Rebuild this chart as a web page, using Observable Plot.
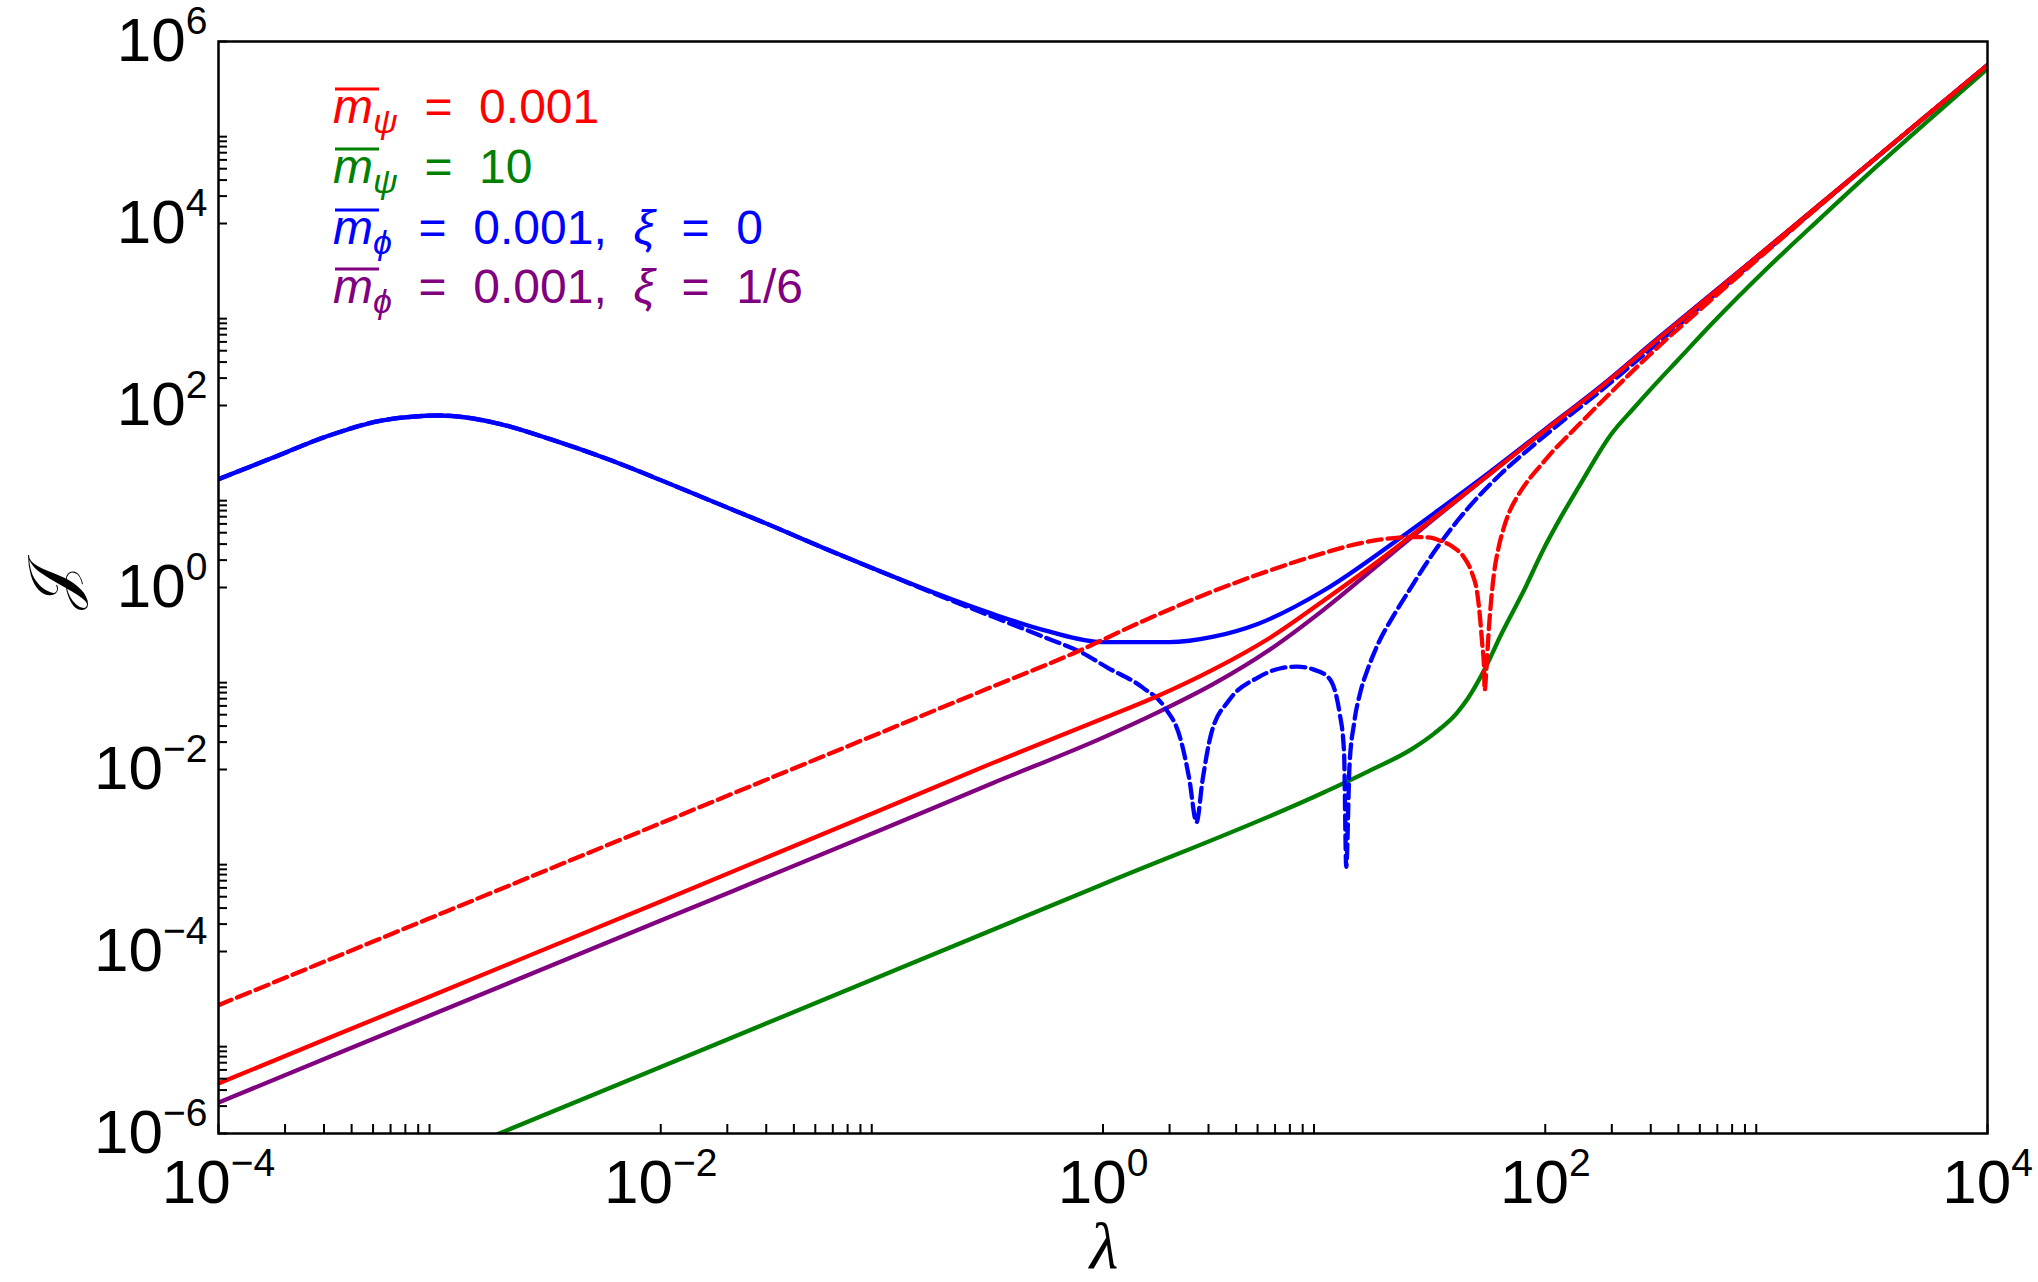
<!DOCTYPE html>
<html>
<head>
<meta charset="utf-8">
<script src="https://cdn.jsdelivr.net/npm/d3@7"></script>
<script src="https://cdn.jsdelivr.net/npm/@observablehq/plot@0.6"></script>
<style>
html, body { margin: 0; padding: 0; background: #fff; overflow: hidden; }
#chart { position: relative; width: 2038px; height: 1282px; }
</style>
</head>
<body>
<div id="chart"></div>
<script>
// ---------- axis ticks & labels ----------
const xMajor = [1e-4, 1e-2, 1, 1e2, 1e4];
const yMajor = [1e-6, 1e-4, 1e-2, 1, 1e2, 1e4, 1e6];
const minorSubs = [2, 3, 4, 5, 6, 7, 8, 9];
const xTickLabels = ["10^\u22124", "10^\u22122", "10^0", "10^2", "10^4"];
const yTickLabels = ["10^\u22126", "10^\u22124", "10^\u22122", "10^0", "10^2", "10^4", "10^6"];
const xLabel = "\u03bb";
const yLabel = "\ud835\udca5";

// ---------- series (log10 lambda, log10 J) ----------
// red solid: m_psi = 0.001
const redSolidLogL = [-4, -3, -2, -1, -0.5, 0, 0.25, 0.5, 0.75, 1, 1.25, 1.5, 1.75, 2, 2.25, 2.5, 3, 3.5, 4];
const redSolidLogJ = [-5.45, -4.45, -3.45, -2.44, -1.93, -1.44, -1.19, -0.90, -0.56, -0.14, 0.30, 0.77, 1.25, 1.73, 2.20, 2.71, 3.72, 4.73, 5.74];

// red dashed
const redDashLogL = [-4, -3, -2, -1, -0.5, -0.14, 0.18, 0.5, 0.83, 1.0, 1.15, 1.3, 1.4, 1.47, 1.53, 1.586, 1.633, 1.67, 1.693, 1.705, 1.715, 1.723, 1.726, 1.735, 1.745, 1.755, 1.768, 1.79, 1.813, 1.843, 1.874, 1.927, 1.979, 2.039, 2.1, 2.25, 2.5, 2.75, 3, 3.5, 4];
const redDashLogJ = [-4.59, -3.59, -2.59, -1.59, -1.09, -0.73, -0.37, -0.04, 0.25, 0.38, 0.48, 0.54, 0.555, 0.55, 0.51, 0.44, 0.33, 0.15, -0.07, -0.33, -0.62, -0.88, -1.13, -0.85, -0.45, -0.15, 0.15, 0.45, 0.66, 0.86, 1.00, 1.19, 1.34, 1.51, 1.66, 2.03, 2.62, 3.16, 3.69, 4.73, 5.74];

// green solid: m_psi = 10
const greenLogL = [-4, -2, 0, 1, 1.2, 1.4, 1.5, 1.6, 1.65, 1.73, 1.8, 1.84, 1.9, 1.99, 2.07, 2.15, 2.3, 2.4, 2.5, 2.6, 2.75, 3.0, 3.25, 3.5, 3.75, 4.0];
const greenLogJ = [-7.27, -5.27, -3.26, -2.25, -2.02, -1.77, -1.60, -1.38, -1.22, -0.88, -0.52, -0.33, -0.05, 0.41, 0.77, 1.10, 1.69, 1.97, 2.24, 2.50, 2.89, 3.50, 4.07, 4.63, 5.17, 5.70];

// blue solid: m_phi = 0.001, xi = 0
const blueSolidLogL = [-4, -3.75, -3.5, -3.25, -3, -2.75, -2.5, -2.25, -2, -1.75, -1.5, -1.25, -1, -0.75, -0.5, -0.25, 0, 0.3, 0.5, 0.7, 1.0, 1.33, 1.5, 1.75, 2.0, 2.25, 2.5, 3, 3.5, 4];
const blueSolidLogJ = [1.19, 1.43, 1.67, 1.84, 1.89, 1.81, 1.63, 1.42, 1.18, 0.93, 0.68, 0.42, 0.17, -0.07, -0.29, -0.48, -0.60, -0.60, -0.54, -0.40, -0.03, 0.52, 0.82, 1.27, 1.74, 2.21, 2.72, 3.72, 4.73, 5.74];

// blue dashed
const blueDashLogL = [-4, -3.75, -3.5, -3.25, -3, -2.75, -2.5, -2.25, -2, -1.75, -1.5, -1.25, -1, -0.75, -0.5, -0.25, -0.1, 0.02, 0.18, 0.28, 0.35, 0.39, 0.423, 0.45, 0.49, 0.57, 0.7, 0.8, 0.876, 0.95, 1.02, 1.07, 1.09, 1.1, 1.115, 1.135, 1.165, 1.2, 1.24, 1.314, 1.38, 1.5, 1.65, 1.8, 1.95, 2.1, 2.25, 2.5, 3, 3.5, 4];
const blueDashLogJ = [1.19, 1.43, 1.67, 1.84, 1.89, 1.81, 1.63, 1.42, 1.18, 0.93, 0.68, 0.42, 0.17, -0.08, -0.32, -0.56, -0.71, -0.88, -1.10, -1.32, -1.66, -2.10, -2.58, -2.12, -1.60, -1.24, -0.99, -0.89, -0.87, -0.90, -0.99, -1.38, -1.80, -3.07, -1.95, -1.50, -1.14, -0.88, -0.64, -0.31, -0.05, 0.40, 0.87, 1.25, 1.57, 1.87, 2.16, 2.67, 3.70, 4.73, 5.74];

// purple solid: m_phi = 0.001, xi = 1/6
const purpleLogL = [-4, -3, -2, -1, -0.5, 0, 0.25, 0.5, 0.75, 1, 1.25, 1.5, 1.75, 2, 2.25, 2.5, 3, 3.5, 4];
const purpleLogJ = [-5.66, -4.66, -3.66, -2.66, -2.15, -1.65, -1.37, -1.06, -0.69, -0.24, 0.26, 0.76, 1.25, 1.73, 2.20, 2.71, 3.72, 4.73, 5.74];

// legend entries
const legendColors = ["#ff0000", "#008000", "#0000ff", "#800080"];
const legendSubs = ["\u03c8", "\u03c8", "\u03d5", "\u03d5"];
const legendValues = ["  =  0.001", "  =  10", "  =  0.001,  ", "  =  0.001,  "];
const legendXi = [null, null, "  =  0", "  =  1/6"];

// ---------- build ----------
const toRows = (logL, logJ) => logL.map((l, i) => ({lambda: 10 ** l, J: 10 ** logJ[i]}));
const xMinor = xMajor.slice(0, -1).flatMap(d => minorSubs.map(k => k * d));
const yMinor = yMajor.slice(0, -1).flatMap(d => minorSubs.map(k => k * d));

const lineMark = (rows, color, dashed) =>
  Plot.line(rows, {
    x: "lambda", y: "J", stroke: color, strokeWidth: 4.3,
    strokeDasharray: dashed ? "14,6" : undefined,
    curve: "monotone-x", clip: true
  });

const FONT = "Liberation Sans, Arial, Helvetica, sans-serif";

const plot = Plot.plot({
  width: 2038,
  height: 1282,
  marginLeft: 218,
  marginRight: 51,
  marginTop: 41,
  marginBottom: 149,
  style: {background: "#fff"},
  x: {type: "log", domain: [1e-4, 1e4]},
  y: {type: "log", domain: [1e-6, 1e6]},
  marks: [
    lineMark(toRows(purpleLogL, purpleLogJ), "#800080", false),
    lineMark(toRows(greenLogL, greenLogJ), "#008000", false),
    lineMark(toRows(blueDashLogL, blueDashLogJ), "#0000ff", true),
    lineMark(toRows(blueSolidLogL, blueSolidLogJ), "#0000ff", false),
    lineMark(toRows(redDashLogL, redDashLogJ), "#ff0000", true),
    lineMark(toRows(redSolidLogL, redSolidLogJ), "#ff0000", false),
    // inward ticks
    Plot.axisX({ticks: [...xMajor, ...xMinor], anchor: "bottom", tickSize: 9, dy: -9, strokeWidth: 2, tickFormat: () => "", label: null}),
    Plot.axisY({ticks: [...yMajor, ...yMinor], anchor: "left", tickSize: 9, dx: 9, strokeWidth: 2, tickFormat: () => "", label: null}),
    // tick labels
    Plot.axisX({ticks: xMajor, anchor: "bottom", tickSize: 0, tickPadding: 25, fontSize: 62, fontFamily: FONT,
      tickFormat: d => xTickLabels[xMajor.indexOf(d)], label: null}),
    Plot.axisY({ticks: yMajor, anchor: "left", tickSize: 0, tickPadding: 11, fontSize: 62, fontFamily: FONT,
      tickFormat: d => yTickLabels[yMajor.indexOf(d)], label: null}),
    Plot.frame({stroke: "black", strokeWidth: 2.5})
  ]
});

document.getElementById("chart").appendChild(plot);
const svg = d3.select(plot);

// superscript exponents in tick labels
svg.selectAll('g[aria-label="x-axis tick label"] text, g[aria-label="y-axis tick label"] text').each(function () {
  const s = this.textContent;
  if (!s.includes("^")) return;
  const [base, exp] = s.split("^");
  this.textContent = base;
  d3.select(this).append("tspan").attr("font-size", 39).attr("dy", -27).text(exp);
});

// axis titles
svg.append("text")
  .attr("x", 1104).attr("y", 1268)
  .attr("text-anchor", "middle")
  .attr("font-family", "Liberation Serif, DejaVu Serif, serif")
  .attr("font-style", "italic")
  .attr("font-size", 66)
  .attr("fill", "black")
  .text(xLabel);

svg.append("text")
  .attr("transform", "translate(74,587) rotate(-90)")
  .attr("text-anchor", "middle")
  .attr("font-family", "DejaVu Sans, DejaVu Serif, serif")
  .attr("font-size", 66)
  .attr("fill", "black")
  .text(yLabel);

// legend text
const legendG = svg.append("g")
  .attr("font-family", FONT).attr("font-size", 48)
  .attr("text-anchor", "start")
  .style("white-space", "pre");
const baselines = [123, 183, 244, 303];
legendColors.forEach((c, i) => {
  const t = legendG.append("text").attr("x", 333).attr("y", baselines[i]).attr("fill", c);
  const m = t.append("tspan").attr("font-style", "italic").text("m");
  t.append("tspan").attr("font-style", "italic").attr("font-size", 34).attr("dy", 10).text(legendSubs[i]);
  t.append("tspan").attr("dy", -10).text(legendValues[i]);
  if (legendXi[i]) {
    t.append("tspan").attr("font-style", "italic").text("\u03be");
    t.append("tspan").text(legendXi[i]);
  }
  // overline bar of the m (part of the glyph group "m̄")
  const ext = t.node().getExtentOfChar(0);
  legendG.append("line")
    .attr("x1", ext.x + 2).attr("x2", ext.x + ext.width + 6)
    .attr("y1", baselines[i] - 34).attr("y2", baselines[i] - 34)
    .attr("stroke", c).attr("stroke-width", 3);
});
</script>
</body>
</html>
